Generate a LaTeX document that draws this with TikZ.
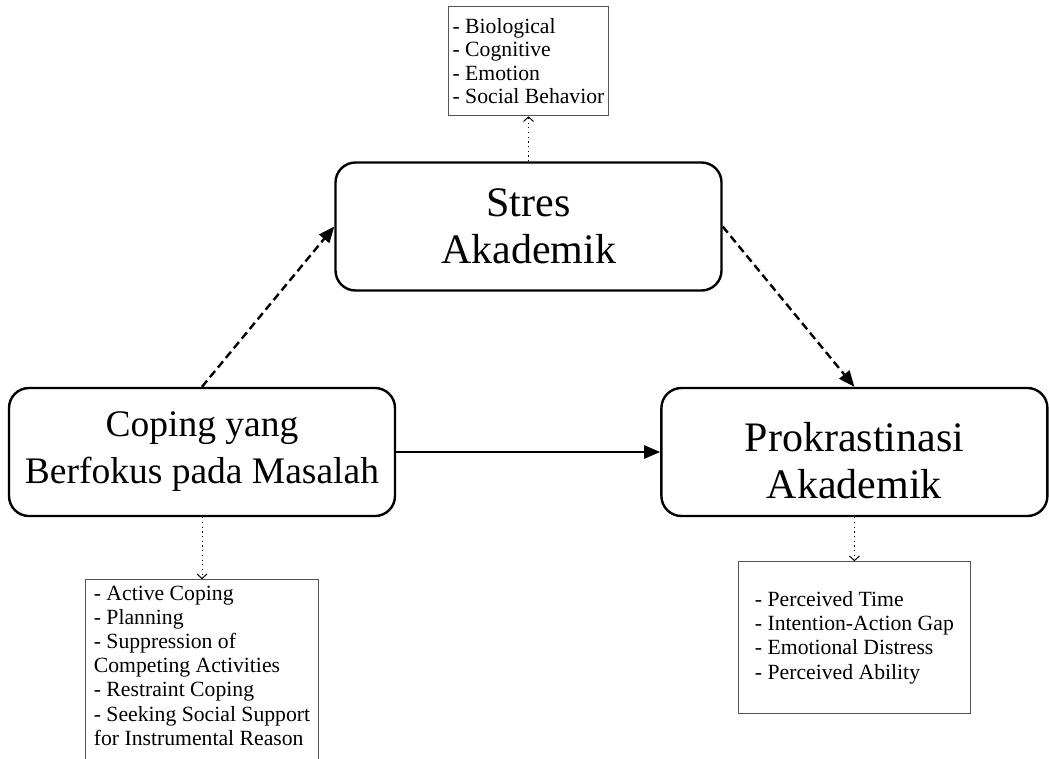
\documentclass[tikz,border=0pt]{standalone}
\usepackage{fontspec}
\setmainfont{Liberation Serif}
\usepackage{tikz}
\usetikzlibrary{arrows.meta,positioning}
\definecolor{bk60}{HTML}{555555}
\tikzset{
  varbox/.style={
    rectangle, rounded corners=20pt, draw=black, fill=white, line width=2.4pt,
    minimum width=386pt, minimum height=128pt,
    font=\fontsize{#1}{47}\selectfont, align=center
  },
  varbox/.default=42,
  indbox/.style={
    rectangle, draw=bk60, fill=white, line width=1pt,
    font=\fontsize{21.7}{24.2}\selectfont, align=left,
    inner xsep=#1, inner ysep=6pt
  },
  indbox/.default=8pt,
  mainarrow/.style={
    -{Triangle[length=16pt, width=13pt]}, line width=2.4pt
  },
  dasharrow/.style={
    mainarrow, dash pattern=on 8pt off 4.5pt
  },
  dotarrow/.style={
    -{Straight Barb[length=4.5pt, width=10pt]}, line width=1pt,
    dash pattern=on 1.2pt off 3.5pt
  },
}
\begin{document}
\begin{tikzpicture}[x=1pt, y=-1pt]

% Page frame
\path[use as bounding box] (0,0) rectangle (1049,758);
\fill[white] (0,0) rectangle (1049,758);
\clip (0,0) rectangle (1049,758);

% Variables
\node[varbox=37.5] (coping) at (202,452) {Coping yang\\Berfokus pada Masalah};
\node[varbox, right=264pt of coping] (prok) {\rule{0pt}{47pt}Prokrastinasi\\Akademik};
\node[varbox] (stres) at (528.5,226.5) {Stres\\Akademik};

% Indicators
\node[indbox=4pt, font=\fontsize{21.7}{23.5}\selectfont, minimum height=109pt,
      above=45pt of stres] (stresind)
  {- Biological\\- Cognitive\\- Emotion\\- Social Behavior};
\node[indbox=8.5pt, below=62pt of coping] (copingind)
  {- Active Coping\\- Planning\\- Suppression of\\Competing Activities\\- Restraint Coping\\- Seeking Social Support\\for Instrumental Reason\rule[-24pt]{0pt}{0pt}};
\node[indbox, minimum width=232pt, minimum height=152pt, below=44pt of prok] (prokind)
  {- Perceived Time\\- Intention-Action Gap\\- Emotional Distress\\- Perceived Ability};

% Paths between variables
\draw[mainarrow] (coping) -- (prok);
\draw[dasharrow] (coping.north) -- (stres.west);
\draw[dasharrow] (stres.east) -- (prok.north);

% Indicator links
\draw[dotarrow] (stres) -- (stresind);
\draw[dotarrow] (coping) -- (copingind);
\draw[dotarrow] (prok) -- (prokind);

\end{tikzpicture}
\end{document}
